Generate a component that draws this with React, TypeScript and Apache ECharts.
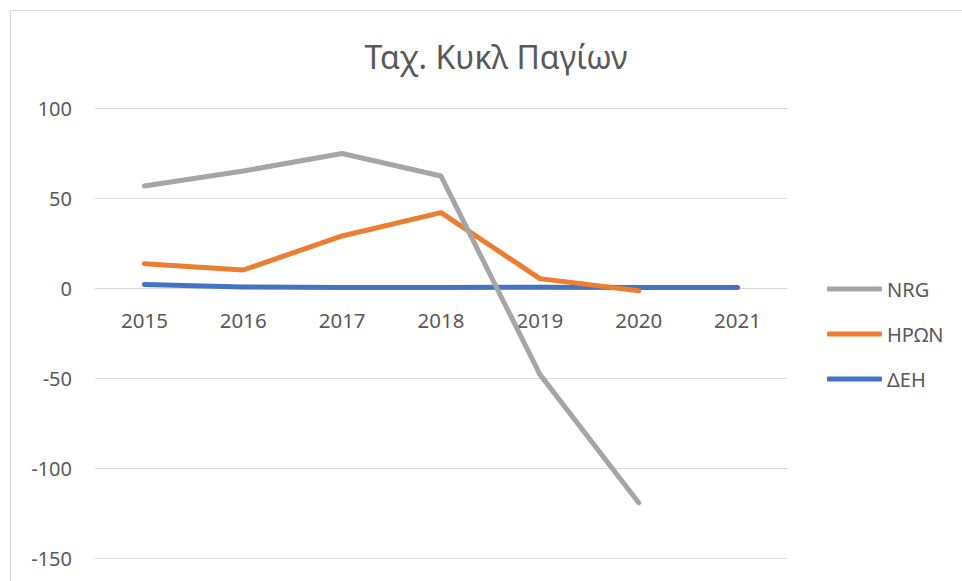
import React, { useEffect, useRef } from "react";
import * as echarts from "echarts";

const categories = ["2015", "2016", "2017", "2018", "2019", "2020", "2021"];
const nrg = [56.7, 65, 74.7, 62.2, -48, -119.3, null];
const hron = [13.5, 10, 28.9, 41.9, 5.2, -1.5, null];
const deh = [2, 0.6, 0.3, 0.3, 0.4, 0.3, 0.3];
const yTicks = { min: -150, max: 100, interval: 50 };
const seriesNames = ["NRG", "HPΩN", "ΔΕΗ"];
const colors = ["#A5A5A5", "#ED7D31", "#4472C4"];

const FONT = "Noto Sans";

export default function App() {
  const ref = useRef<HTMLDivElement>(null);
  useEffect(() => {
    if (!ref.current) return;
    const chart = echarts.init(ref.current, null, { renderer: "svg" });
    const mk = (name: string, data: (number | null)[], color: string) => ({
      name,
      type: "line",
      data,
      showSymbol: false,
      symbol: "none",
      color,
      lineStyle: { width: 5, color, cap: "round", join: "round" },
    });
    const gridTop = 108;
    const gridBottom = 23;
    const gridH = 581 - gridTop - gridBottom;
    const zeroOffset = -(gridH * (0 - yTicks.min)) / (yTicks.max - yTicks.min);
    chart.setOption({
      animation: false,
      backgroundColor: "#ffffff",
      textStyle: { fontFamily: FONT },
      title: {
        text: "Ταχ. Κυκλ Παγίων",
        left: 491,
        top: 35,
        textAlign: "center",
        textStyle: { fontFamily: FONT, fontSize: 32, fontWeight: "normal", color: "#595959" },
      },
      graphic: [
        {
          type: "rect",
          shape: { x: 10.5, y: 10.5, width: 1200, height: 1200 },
          style: { fill: "none", stroke: "#D9D9D9", lineWidth: 1 },
          silent: true,
        },
      ],
      legend: {
        orient: "vertical",
        left: 827,
        top: 277,
        padding: 0,
        itemWidth: 55,
        itemHeight: 5,
        itemGap: 21,
        icon: "roundRect",
        data: seriesNames,
        textStyle: { fontFamily: FONT, fontSize: 20, color: "#595959", lineHeight: 24 },
      },
      grid: {
        left: 95,
        right: 175,
        top: gridTop,
        bottom: gridBottom,
        containLabel: false,
        outerBoundsMode: "none",
      },
      xAxis: {
        type: "category",
        data: categories,
        boundaryGap: true,
        position: "bottom",
        offset: zeroOffset,
        axisLine: { show: true, onZero: false, lineStyle: { color: "#D9D9D9", width: 1 } },
        axisTick: { show: false },
        axisLabel: { fontFamily: FONT, fontSize: 20.5, color: "#595959", margin: 21 },
      },
      yAxis: {
        type: "value",
        min: yTicks.min,
        max: yTicks.max,
        interval: yTicks.interval,
        axisLine: { show: false },
        axisTick: { show: false },
        splitLine: { show: true, lineStyle: { color: "#D9D9D9", width: 1 } },
        axisLabel: { fontFamily: FONT, fontSize: 20, color: "#595959", margin: 23 },
      },
      series: [
        mk(seriesNames[2], deh, colors[2]),
        mk(seriesNames[1], hron, colors[1]),
        mk(seriesNames[0], nrg, colors[0]),
      ],
    });
    return () => chart.dispose();
  }, []);
  return (
    <div
      ref={ref}
      style={{ position: "fixed", left: 0, top: 0, width: 962, height: 581 }}
    />
  );
}
